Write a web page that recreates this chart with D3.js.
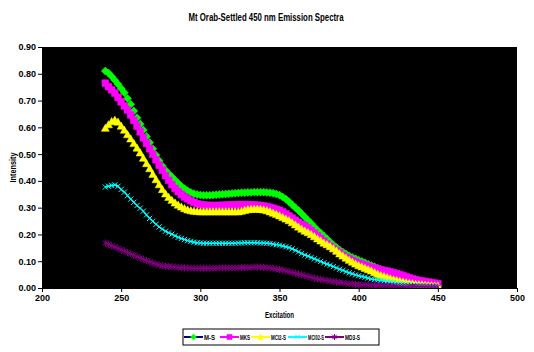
<!DOCTYPE html>
<html><head><meta charset="utf-8">
<script src="https://cdn.jsdelivr.net/npm/d3@7"></script>
<style>html,body{margin:0;padding:0;background:#fff;}svg{display:block;}</style>
</head><body>
<script>
const title = "Mt Orab-Settled 450 nm Emission Spectra";
const xTitle = "Excitation";
const yTitle = "Intensity";
const xTicks = [200, 250, 300, 350, 400, 450, 500];
const yTicks = [0, 0.1, 0.2, 0.3, 0.4, 0.5, 0.6, 0.7, 0.8, 0.9];
const seriesNames = ["M-S", "MKS", "MCl2-S", "MCl02-S", "MD3-S"];
const excitation = [240,242,244,246,248,250,252,254,256,258,260,262,264,266,268,270,272,274,276,278,280,282,284,286,288,290,292,294,296,298,300,302,304,306,308,310,312,314,316,318,320,322,324,326,328,330,332,334,336,338,340,342,344,346,348,350,352,354,356,358,360,362,364,366,368,370,372,374,376,378,380,382,384,386,388,390,392,394,396,398,400,402,404,406,408,410,412,414,416,418,420,422,424,426,428,430,432,434,436,438,440,442,444,446,448,450];
const mS = [.810,.803,.790,.776,.761,.745,.729,.708,.686,.661,.636,.612,.590,.566,.543,.520,.497,.475,.456,.440,.427,.415,.403,.391,.380,.371,.363,.357,.352,.349,.347,.346,.346,.346,.347,.348,.349,.350,.351,.352,.353,.354,.355,.356,.356,.357,.357,.358,.358,.358,.358,.357,.356,.354,.351,.347,.340,.332,.322,.311,.300,.289,.277,.265,.253,.241,.228,.216,.205,.194,.183,.172,.161,.151,.142,.134,.127,.120,.114,.109,.104,.099,.094,.089,.084,.079,.074,.069,.064,.059,.055,.051,.047,.043,.040,.036,.033,.030,.027,.024,.021,.018,.015,.013,.011,.009];
const mKS = [.765,.752,.740,.728,.712,.695,.680,.665,.646,.626,.605,.583,.561,.540,.520,.500,.479,.459,.440,.420,.402,.386,.372,.360,.349,.340,.333,.326,.320,.315,.312,.310,.309,.308,.308,.308,.308,.309,.309,.310,.310,.310,.311,.311,.311,.311,.310,.310,.309,.308,.306,.304,.301,.298,.294,.290,.284,.277,.269,.261,.253,.245,.238,.232,.224,.215,.205,.195,.185,.175,.165,.156,.147,.139,.132,.122,.115,.109,.103,.098,.093,.089,.085,.081,.077,.074,.071,.068,.065,.063,.060,.057,.054,.050,.046,.042,.038,.034,.031,.028,.026,.024,.022,.020,.018,.016];
const mCl2S = [.597,.610,.622,.627,.620,.605,.590,.573,.557,.540,.523,.505,.485,.465,.446,.425,.405,.386,.368,.352,.339,.328,.318,.310,.303,.297,.292,.289,.287,.286,.285,.285,.285,.285,.285,.285,.285,.285,.285,.285,.285,.285,.285,.287,.290,.293,.294,.295,.295,.294,.292,.289,.285,.280,.275,.270,.264,.258,.252,.244,.236,.228,.220,.213,.207,.200,.192,.184,.176,.168,.162,.155,.147,.138,.128,.120,.112,.104,.097,.090,.084,.079,.074,.069,.064,.058,.052,.047,.043,.039,.035,.031,.028,.025,.022,.020,.018,.016,.014,.013,.012,.011,.010,.009,.008,.008];
const mCl02S = [.377,.380,.383,.385,.380,.368,.358,.345,.332,.320,.308,.298,.287,.273,.260,.249,.238,.228,.220,.212,.206,.201,.195,.189,.185,.181,.177,.174,.171,.169,.168,.167,.167,.167,.167,.167,.167,.167,.167,.167,.167,.167,.168,.168,.169,.169,.169,.169,.169,.168,.168,.167,.166,.164,.162,.160,.157,.154,.151,.146,.141,.135,.129,.123,.119,.114,.109,.104,.099,.094,.089,.085,.080,.075,.070,.066,.061,.057,.053,.049,.046,.043,.040,.037,.034,.032,.030,.028,.026,.024,.022,.020,.018,.016,.015,.013,.012,.011,.010,.009,.008,.007,.006,.006,.005,.005];
const mD3S = [.168,.163,.158,.153,.148,.143,.138,.133,.128,.122,.117,.112,.107,.102,.097,.093,.089,.086,.083,.081,.080,.079,.078,.077,.076,.075,.075,.074,.074,.074,.074,.074,.074,.074,.074,.074,.075,.075,.075,.075,.075,.075,.075,.076,.076,.076,.077,.078,.078,.078,.077,.076,.075,.073,.071,.069,.067,.064,.061,.058,.055,.052,.049,.046,.043,.040,.037,.034,.032,.030,.028,.026,.024,.022,.021,.019,.018,.016,.015,.014,.013,.012,.012,.011,.011,.010,.010,.009,.009,.009,.008,.008,.007,.007,.007,.006,.006,.006,.005,.005,.005,.005,.004,.004,.004,.004];

const seriesValues = [mS, mKS, mCl2S, mCl02S, mD3S];
const lineColors = ["#000080", "#FF00FF", "#FFFF00", "#00FFFF", "#800080"];
const markerColors = ["#00FF00", "#FF00FF", "#FFFF00", "#00FFFF", "#800080"];
const markerTypes = ["diamond", "square", "triangle", "x", "star"];

const W = 534, H = 352;
const plot = {l: 42, r: 517, t: 47, b: 288};
const FONT = "'Liberation Sans Narrow', 'Liberation Sans', Arial, sans-serif";

const svg = d3.select("body").append("svg").attr("width", W).attr("height", H);
svg.append("rect").attr("width", W).attr("height", H).attr("fill", "#fff");

const x = d3.scaleLinear().domain([200, 500]).range([plot.l, plot.r]);
const y = d3.scaleLinear().domain([0, 0.9]).range([plot.b, plot.t]);

svg.append("rect").attr("x", plot.l).attr("y", plot.t)
  .attr("width", plot.r - plot.l).attr("height", plot.b - plot.t).attr("fill", "#000");

// axes
const yAxis = d3.axisLeft(y).tickValues(yTicks).tickFormat(d3.format(".2f")).tickSize(4).tickSizeOuter(0);
const gy = svg.append("g").attr("transform", `translate(${plot.l},0)`).call(yAxis);
gy.select(".domain").attr("stroke", "#000");
gy.selectAll(".tick line").attr("stroke", "#000");
gy.selectAll(".tick text").attr("font-family", FONT).attr("font-size", 9).attr("font-weight", "bold").attr("fill", "#000").attr("x", -6);

const xAxis = d3.axisBottom(x).tickValues(xTicks).tickFormat(d3.format("d")).tickSize(4).tickSizeOuter(0);
const gx = svg.append("g").attr("transform", `translate(0,${plot.b})`).call(xAxis);
gx.select(".domain").attr("stroke", "#000");
gx.selectAll(".tick line").attr("stroke", "#000");
gx.selectAll(".tick text").attr("font-family", FONT).attr("font-size", 9).attr("font-weight", "bold").attr("fill", "#000").attr("y", 7);

// marker paths
function markerPath(type, s) {
  switch (type) {
    case "diamond": return `M0,${-s}L${s},0L0,${s}L${-s},0Z`;
    case "square": return `M${-s*0.85},${-s*0.85}H${s*0.85}V${s*0.85}H${-s*0.85}Z`;
    case "triangle": return `M0,${-s}L${s},${s*0.8}L${-s},${s*0.8}Z`;
    case "x": return `M${-s*0.75},${-s*0.75}L${s*0.75},${s*0.75}M${-s*0.75},${s*0.75}L${s*0.75},${-s*0.75}`;
    case "star": return `M${-s*0.75},${-s*0.75}L${s*0.75},${s*0.75}M${-s*0.75},${s*0.75}L${s*0.75},${-s*0.75}M0,${-s}V${s}`;
  }
}
function drawMarker(g, type, color, s) {
  const p = g.append("path").attr("d", markerPath(type, s));
  if (type === "x" || type === "star") p.attr("fill", "none").attr("stroke", color).attr("stroke-width", 1);
  else p.attr("fill", color).attr("stroke", color).attr("stroke-width", 0.5);
}

const line = d3.line().x(d => x(d[0])).y(d => y(d[1]));
const clip = svg.append("clipPath").attr("id", "clip").append("rect")
  .attr("x", plot.l).attr("y", plot.t - 6).attr("width", plot.r - plot.l).attr("height", plot.b - plot.t + 6);

const gData = svg.append("g").attr("clip-path", "url(#clip)");
seriesValues.forEach((vals, i) => {
  const pts = excitation.map((e, k) => [e, vals[k]]);
  const g = gData.append("g");
  g.append("path").datum(pts).attr("d", line).attr("fill", "none")
    .attr("stroke", lineColors[i]).attr("stroke-width", 1.5);
  const size = markerTypes[i] === "x" || markerTypes[i] === "star" ? 3.5 : 4;
  pts.forEach(p => {
    const mg = g.append("g").attr("transform", `translate(${x(p[0])},${y(p[1])})`);
    drawMarker(mg, markerTypes[i], markerColors[i], size);
  });
});

// title
svg.append("text").attr("x", 266).attr("y", 21).attr("text-anchor", "middle")
  .attr("font-family", FONT).attr("font-size", 10).attr("font-weight", "bold")
  .attr("textLength", 155).attr("lengthAdjust", "spacingAndGlyphs").text(title);
svg.append("text").attr("x", x(350)).attr("y", 318).attr("text-anchor", "middle")
  .attr("font-family", FONT).attr("font-size", 9).attr("font-weight", "bold")
  .attr("textLength", 29).attr("lengthAdjust", "spacingAndGlyphs").text(xTitle);
svg.append("text").attr("transform", `translate(16,${(plot.t + plot.b) / 2}) rotate(-90)`)
  .attr("text-anchor", "middle").attr("font-family", FONT).attr("font-size", 9).attr("font-weight", "bold")
  .attr("textLength", 30).attr("lengthAdjust", "spacingAndGlyphs").text(yTitle);

// legend
const lg = svg.append("g");
lg.append("rect").attr("x", 183).attr("y", 329).attr("width", 196).attr("height", 16)
  .attr("fill", "#fff").attr("stroke", "#000").attr("stroke-width", 1);
const legX = [184, 220, 251, 288, 325];
const legTextW = [11, 10, 15, 16, 15];
seriesNames.forEach((n, i) => {
  const x0 = legX[i], cy = 337;
  lg.append("line").attr("x1", x0).attr("x2", x0 + 19).attr("y1", cy).attr("y2", cy)
    .attr("stroke", lineColors[i]).attr("stroke-width", 2);
  const mg = lg.append("g").attr("transform", `translate(${x0 + 9.5},${cy})`);
  drawMarker(mg, markerTypes[i], markerColors[i], 3);
  lg.append("text").attr("x", x0 + 20).attr("y", cy + 3).attr("font-family", FONT)
    .attr("font-size", 8).attr("font-weight", "bold")
    .attr("textLength", legTextW[i]).attr("lengthAdjust", "spacingAndGlyphs").text(n);
});
</script>
</body></html>
